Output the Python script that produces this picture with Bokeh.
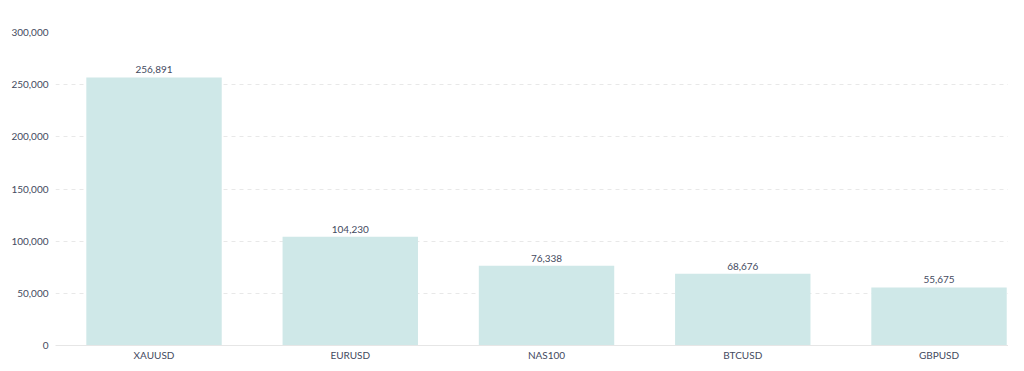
from bokeh.plotting import figure
from bokeh.models import ColumnDataSource, Range1d, FixedTicker, NumeralTickFormatter, LabelSet
from bokeh.core.properties import value
from bokeh.embed import file_html
from bokeh.resources import INLINE

categories = ["XAUUSD", "EURUSD", "NAS100", "BTCUSD", "GBPUSD"]
values = [256891, 104230, 76338, 68676, 55675]
y_ticks = [0, 50000, 100000, 150000, 200000, 250000, 300000]

xs = list(range(len(categories)))
src = ColumnDataSource(dict(x=xs, v=values, lab=[f"{v:,}" for v in values]))

p = figure(width=1008, height=363, output_backend="svg", toolbar_location=None,
           x_range=Range1d(-0.502, 4.354), y_range=Range1d(0, 300000),
           min_border_left=55, min_border_right=0, min_border_top=32, min_border_bottom=18)
p.outline_line_color = None
p.background_fill_color = "white"
p.border_fill_color = "white"

p.vbar(x="x", top="v", width=0.69, source=src, fill_color="#cfe8e8", line_color=None)

labels = LabelSet(x="x", y="v", text="lab", source=src, text_align="center", text_baseline="bottom",
                  y_offset=4, text_font=value("Lato"), text_font_size="10px", text_color="#444a60")
p.add_layout(labels)

p.xaxis.ticker = FixedTicker(ticks=xs)
p.xaxis.major_label_overrides = {i: c for i, c in enumerate(categories)}
p.xaxis.axis_line_color = "#e6e6e6"
p.xaxis.major_tick_line_color = None
p.xaxis.minor_tick_line_color = None
p.xaxis.major_label_text_font = "Lato"
p.xaxis.major_label_text_font_size = "10px"
p.xaxis.major_label_text_color = "#444a60"
p.xaxis.major_label_standoff = 3
p.xaxis.major_tick_in = 0
p.xaxis.major_tick_out = 0

p.yaxis.ticker = FixedTicker(ticks=y_ticks)
p.yaxis.formatter = NumeralTickFormatter(format="0,0")
p.yaxis.axis_line_color = None
p.yaxis.major_tick_line_color = None
p.yaxis.minor_tick_line_color = None
p.yaxis.major_label_text_font = "Lato"
p.yaxis.major_label_text_font_size = "10px"
p.yaxis.major_label_text_color = "#444a60"
p.yaxis.major_label_standoff = 7
p.yaxis.major_tick_in = 0
p.yaxis.major_tick_out = 0

p.xgrid.grid_line_color = None
p.ygrid.grid_line_color = "#e8e8e8"
p.ygrid.grid_line_dash = "4 4"

open("out.html", "w").write(file_html(p, INLINE))
